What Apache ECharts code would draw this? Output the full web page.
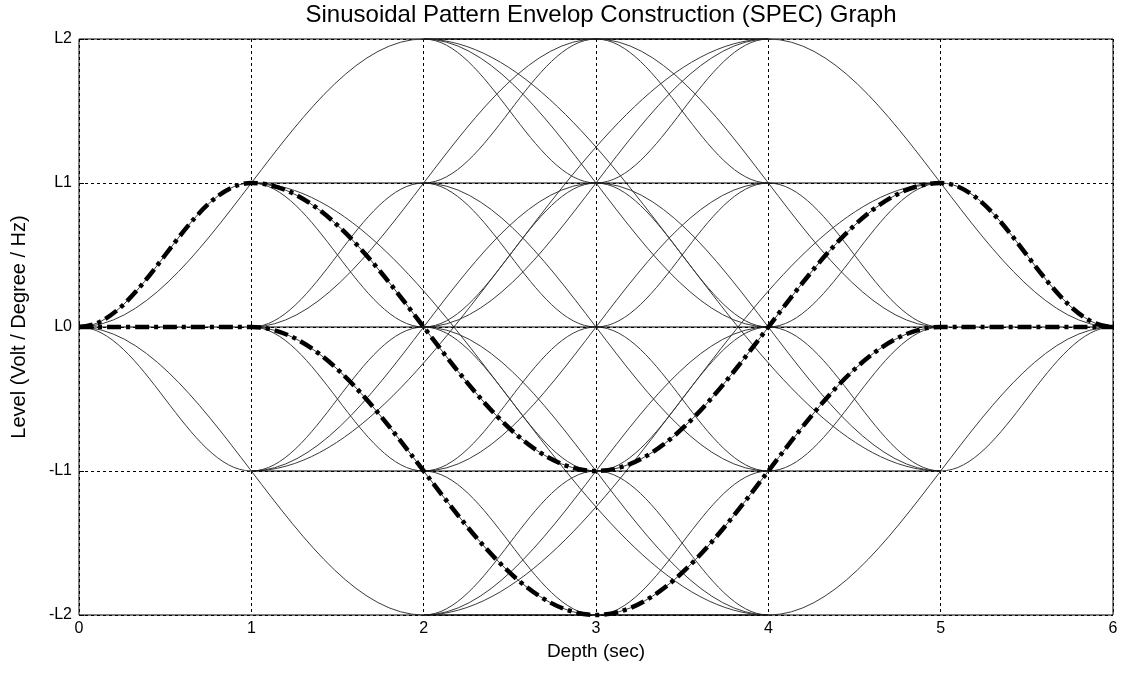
<!DOCTYPE html>
<html>
<head>
<meta charset="utf-8">
<title>SPEC Graph</title>
<script src="https://cdn.jsdelivr.net/npm/echarts@6/dist/echarts.min.js"></script>
<style>
  html, body { margin: 0; padding: 0; background: #ffffff; }
  #chart { width: 1122px; height: 675px; }
</style>
</head>
<body>
<div id="chart"></div>
<script>
// Axis ticks
const depthTicks = [0, 1, 2, 3, 4, 5, 6];
const levelTicks = [-2, -1, 0, 1, 2];
const levelLabels = ['-L2', '-L1', 'L0', 'L1', 'L2'];

// Sinusoidal transitions between lattice nodes: [startDepth, startLevel, endDepth, endLevel]
// One-second steps of one level
const stepOne = [
  [0, 0, 1, 1], [0, 0, 1, -1],
  [1, 0, 2, 1], [1, 0, 2, -1],
  [1, 1, 2, 0], [1, -1, 2, 0],
  [2, 2, 3, 1], [2, -2, 3, -1],
  [2, 1, 3, 2], [2, -1, 3, -2],
  [2, 1, 3, 0], [2, -1, 3, 0],
  [2, 0, 3, 1], [2, 0, 3, -1],
  [3, 2, 4, 1], [3, -2, 4, -1],
  [3, 1, 4, 2], [3, -1, 4, -2],
  [3, 1, 4, 0], [3, -1, 4, 0],
  [3, 0, 4, 1], [3, 0, 4, -1],
  [4, 1, 5, 0], [4, -1, 5, 0],
  [4, 0, 5, 1], [4, 0, 5, -1],
  [5, 1, 6, 0], [5, -1, 6, 0]
];
// Two-second swings of two levels
const stepTwo = [
  [0, 0, 2, 2], [0, 0, 2, -2],
  [1, 0, 3, 2], [1, 0, 3, -2],
  [1, 1, 3, -1], [1, -1, 3, 1],
  [2, 2, 4, 0], [2, -2, 4, 0],
  [2, 0, 4, 2], [2, 0, 4, -2],
  [2, 1, 4, -1], [2, -1, 4, 1],
  [3, 2, 5, 0], [3, -2, 5, 0],
  [3, 1, 5, -1], [3, -1, 5, 1],
  [4, 2, 6, 0], [4, -2, 6, 0]
];
// Three-second swings of three levels
const stepThree = [
  [1, 1, 4, -2], [1, -1, 4, 2],
  [2, 2, 5, -1], [2, -2, 5, 1]
];
// Constant-level holds
const holds = [
  [0, 0, 6, 0],
  [1, 1, 5, 1], [1, -1, 5, -1],
  [2, 2, 4, 2], [2, -2, 4, -2]
];

// Highlighted patterns (node depths and levels)
const patternOneDepth = [0, 1, 3, 5, 6];
const patternOneLevel = [0, 1, -1, 1, 0];
const patternTwoDepth = [0, 1, 3, 5, 6];
const patternTwoLevel = [0, 0, -2, 0, 0];

// Control-point fraction giving a cubic close to a half-cosine ramp
const RAMP_K = 0.3634;

function rampShape(t0, y0, t1, y1, api) {
  const k = RAMP_K * (t1 - t0);
  const p0 = api.coord([t0, y0]);
  const c1 = api.coord([t0 + k, y0]);
  const c2 = api.coord([t1 - k, y1]);
  const p1 = api.coord([t1, y1]);
  return { x1: p0[0], y1: p0[1], x2: p1[0], y2: p1[1],
           cpx1: c1[0], cpy1: c1[1], cpx2: c2[0], cpy2: c2[1] };
}

function segmentSeries(name, data, color, width, z) {
  return {
    name: name,
    type: 'custom',
    coordinateSystem: 'cartesian2d',
    encode: { x: [0, 2], y: [1, 3] },
    silent: true,
    z: z,
    clip: false,
    data: data,
    renderItem: function (params, api) {
      return {
        type: 'bezierCurve',
        shape: rampShape(api.value(0), api.value(1), api.value(2), api.value(3), api),
        style: { stroke: color, lineWidth: width, fill: null }
      };
    }
  };
}

function patternSeries(name, depths, levels, z) {
  return {
    name: name,
    type: 'custom',
    coordinateSystem: 'cartesian2d',
    encode: { x: 0, y: 1 },
    silent: true,
    z: z,
    clip: false,
    data: depths.map(function (t, i) { return [t, levels[i]]; }),
    renderItem: function (params, api) {
      if (params.dataIndex !== 0) return null;
      let p = api.coord([depths[0], levels[0]]);
      let d = 'M' + p[0] + ' ' + p[1];
      for (let i = 1; i < depths.length; i++) {
        const s = rampShape(depths[i - 1], levels[i - 1], depths[i], levels[i], api);
        d += ' C' + s.cpx1 + ' ' + s.cpy1 + ' ' + s.cpx2 + ' ' + s.cpy2 + ' ' + s.x2 + ' ' + s.y2;
      }
      return {
        type: 'path',
        shape: { pathData: d },
        style: {
          stroke: '#000000', lineWidth: 4.5, fill: null,
          lineDash: [14, 5, 4, 5], lineCap: 'butt', lineJoin: 'round'
        }
      };
    }
  };
}

const FONT = 'Liberation Sans, Arial, Helvetica, sans-serif';
const chart = echarts.init(document.getElementById('chart'), null, { renderer: 'canvas' });

chart.setOption({
  animation: false,
  backgroundColor: '#ffffff',
  title: {
    text: 'Sinusoidal Pattern Envelop Construction (SPEC) Graph',
    left: 596,
    top: -2,
    textAlign: 'center',
    textStyle: { fontFamily: FONT, fontSize: 24, fontWeight: 'normal', color: '#000000' }
  },
  grid: {
    left: 79, top: 39, width: 1034, height: 576,
    show: true, borderColor: '#000000', borderWidth: 1, backgroundColor: '#ffffff'
  },
  xAxis: {
    type: 'value',
    min: depthTicks[0],
    max: depthTicks[depthTicks.length - 1],
    interval: 1,
    name: 'Depth (sec)',
    nameLocation: 'middle',
    nameGap: 23,
    nameTextStyle: { fontFamily: FONT, fontSize: 19, color: '#000000' },
    axisLine: { show: false },
    axisTick: { show: true, inside: true, length: 5, lineStyle: { color: '#000000' } },
    axisLabel: { fontFamily: FONT, fontSize: 16, color: '#000000', margin: 6 },
    splitLine: { show: true, lineStyle: { color: '#000000', width: 1, type: [3, 3] } }
  },
  yAxis: {
    type: 'value',
    min: levelTicks[0],
    max: levelTicks[levelTicks.length - 1],
    interval: 1,
    name: 'Level (Volt / Degree / Hz)',
    nameLocation: 'middle',
    nameGap: 50,
    nameTextStyle: { fontFamily: FONT, fontSize: 20, color: '#000000' },
    axisLine: { show: false },
    axisTick: { show: true, inside: true, length: 5, lineStyle: { color: '#000000' } },
    axisLabel: {
      fontFamily: FONT, fontSize: 16, color: '#000000', margin: 7,
      formatter: function (v) { return levelLabels[levelTicks.indexOf(v)]; }
    },
    splitLine: { show: true, lineStyle: { color: '#000000', width: 1, type: [3, 3] } }
  },
  series: [
    segmentSeries('one-second steps', stepOne, '#3a3a3a', 1, 2),
    segmentSeries('two-second swings', stepTwo, '#3a3a3a', 1, 2),
    segmentSeries('three-second swings', stepThree, '#3a3a3a', 1, 2),
    segmentSeries('holds', holds, '#000000', 1, 3),
    patternSeries('pattern one', patternOneDepth, patternOneLevel, 5),
    patternSeries('pattern two', patternTwoDepth, patternTwoLevel, 5)
  ]
});
</script>
</body>
</html>
